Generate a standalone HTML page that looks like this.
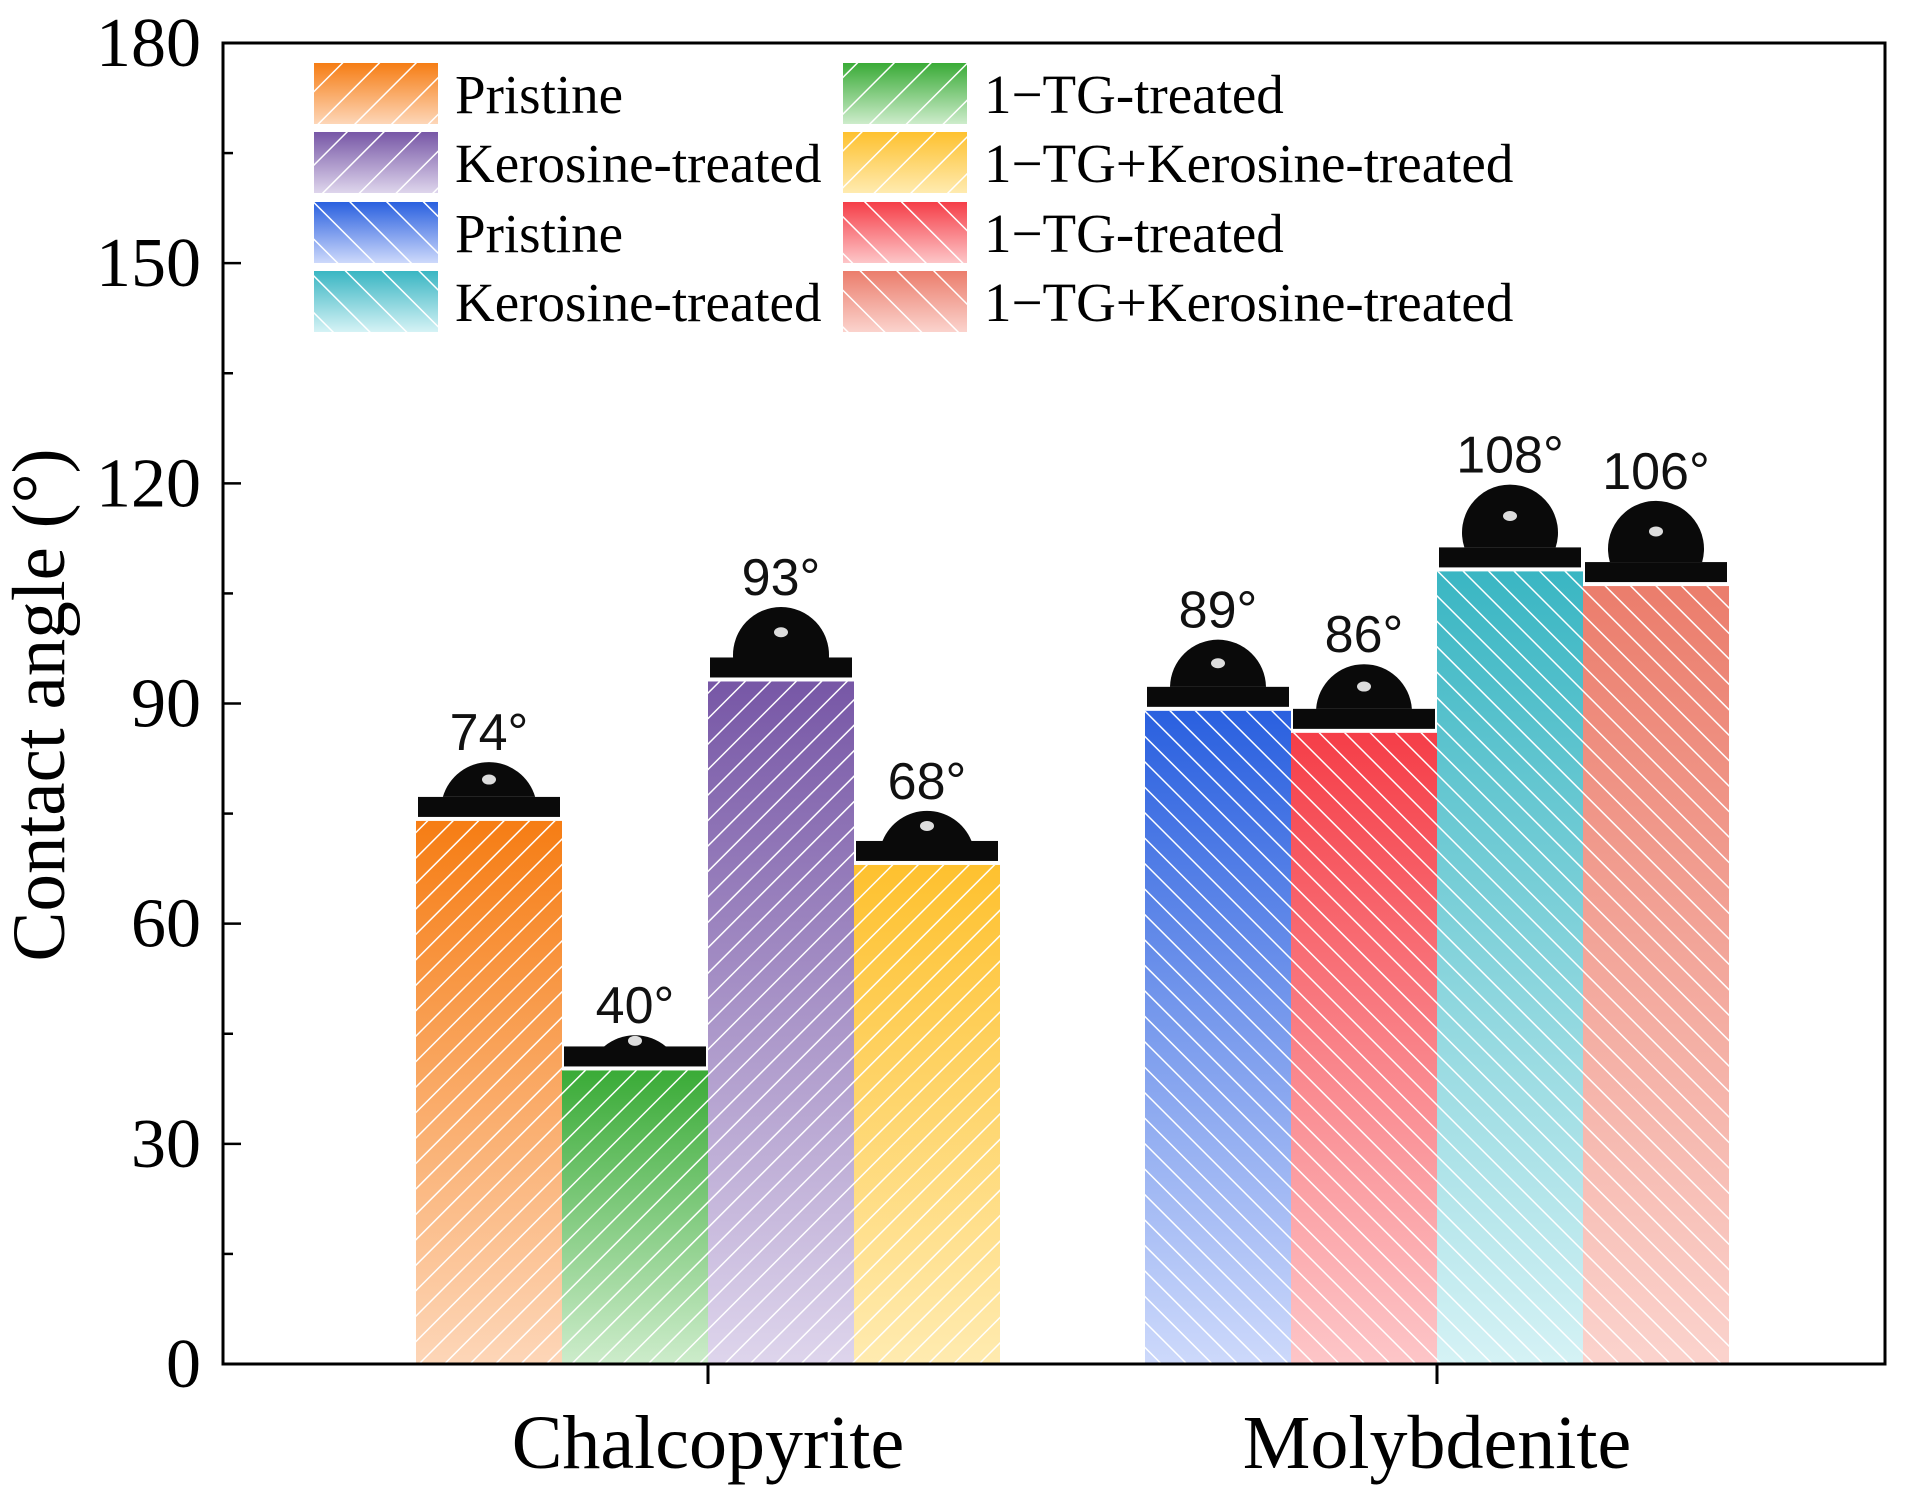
<!DOCTYPE html>
<html><head><meta charset="utf-8"><style>
html,body{margin:0;padding:0;background:#fff;}
svg{display:block;}
</style></head><body>
<svg id="chart" width="1907" height="1498" viewBox="0 0 1907 1498" xmlns="http://www.w3.org/2000/svg">
<defs id="defs"></defs>
<g id="bars"></g>
<g id="drops"></g>
<g id="axes"></g>
<g id="legend"></g>
</svg>
<script>
const categories = ["Chalcopyrite", "Molybdenite"];
const chalcoValues = [74, 40, 93, 68];
const molyValues = [89, 86, 108, 106];
const yTicks = [0, 30, 60, 90, 120, 150, 180];
const chalcoNames = ["Pristine", "1\u2212TG-treated", "Kerosine-treated", "1\u2212TG+Kerosine-treated"];
const molyNames = ["Pristine", "1\u2212TG-treated", "Kerosine-treated", "1\u2212TG+Kerosine-treated"];

const NS = "http://www.w3.org/2000/svg";
const L = 223, R = 1885, T = 43, B = 1364;
const yMax = 180;
const y = v => B - (v / yMax) * (B - T);
const barW = 146;
const catCenter = [708, 1437];
const colors = [
  [["#f67d14","#fdd6b8"],["#3aab37","#cdeccb"],["#7757a6","#ded5ec"],["#fec12f","#ffebb0"]],
  [["#2a60df","#cdd9fb"],["#f53e48","#fdc6c8"],["#3ab6c3","#d5f2f5"],["#eb7d6c","#fbd3cd"]]
];
function el(tag, attrs, parent){ const e=document.createElementNS(NS,tag); for(const k in attrs) e.setAttribute(k,attrs[k]); if(parent) parent.appendChild(e); return e; }
const defs = document.getElementById('defs');
function makeFill(id, c, dir, spacing){
  const g = el('linearGradient',{id:'g'+id,x1:0,y1:0,x2:0,y2:1},defs);
  el('stop',{offset:0,'stop-color':c[0]},g);
  el('stop',{offset:1,'stop-color':c[1]},g);
  const p = el('pattern',{id:'h'+id,patternUnits:'userSpaceOnUse',width:spacing,height:spacing,patternTransform:'rotate('+(dir>0?45:-45)+')'},defs);
  el('line',{x1:0,y1:0,x2:0,y2:spacing,stroke:'#fff','stroke-width':3},p);
}
for(let s=0;s<2;s++) for(let i=0;i<4;i++){ makeFill(s+'_'+i, colors[s][i], s===0?1:-1, 18); makeFill('L'+s+'_'+i, colors[s][i], s===0?1:-1, 26); }

const barsG = document.getElementById('bars');
const dropsG = document.getElementById('drops');
const allVals = [chalcoValues, molyValues];
for(let s=0;s<2;s++){
  const vals = allVals[s];
  vals.forEach((v,i)=>{
    const x0 = catCenter[s] - 2*barW + i*barW;
    const top = y(v);
    const g = el('g',{},barsG);
    
    
    el('rect',{x:x0,y:top,width:barW,height:B-top,fill:'url(#g'+s+'_'+i+')'},g);
    el('rect',{x:x0,y:top,width:barW,height:B-top,fill:'url(#h'+s+'_'+i+')'},g);
    const d = el('g',{},dropsG);
    
    
    const subTop = top - 4 - 20;
    el('rect',{x:x0+2,y:subTop,width:barW-4,height:20,fill:'#0a0a0a'},d);
    const th = v*Math.PI/180;
    const r = Math.min(52/Math.sin(th), 48);
    const cx = x0 + barW/2;
    const cy = subTop + r*Math.cos(th);
    const a = r*Math.sin(th);
    let path;
    if (v<=90) path = `M${cx-a},${subTop} A${r},${r} 0 0 1 ${cx+a},${subTop} Z`;
    else path = `M${cx-a},${subTop} A${r},${r} 0 1 1 ${cx+a},${subTop} Z`;
    el('path',{d:path,fill:'#0a0a0a'},d);
    const dropTop = cy - r;
    el('ellipse',{cx:cx,cy:(dropTop+subTop)/2,rx:7,ry:5,fill:'#ddd'},d);
    const t = el('text',{x:cx,y:dropTop-12,'text-anchor':'middle','font-family':'Liberation Sans, Arial, sans-serif','font-size':52,fill:'#111'},dropsG);
    t.textContent = v+'\u00b0';
    
    
  });
}

const ax = document.getElementById('axes');
el('rect',{x:L,y:T,width:R-L,height:B-T,fill:'none',stroke:'#000','stroke-width':3},ax);
for(let v=0; v<=yMax; v+=15){
  const major = v%30===0;
  el('line',{x1:L,x2:L+(major?18:10),y1:y(v),y2:y(v),stroke:'#000','stroke-width':2.5},ax);
}
yTicks.forEach(v=>{
  const t = el('text',{x:L-22,y:y(v)+23,'text-anchor':'end','font-family':'Liberation Serif, serif','font-size':70,fill:'#000'},ax);
  t.textContent = v;
  
  
});
categories.forEach((c,i)=>{
  el('line',{x1:catCenter[i],x2:catCenter[i],y1:B,y2:B+20,stroke:'#000','stroke-width':3},ax);
  const t = el('text',{x:catCenter[i],y:1468,'text-anchor':'middle','font-family':'Liberation Serif, serif','font-size':76,fill:'#000'},ax);
  t.textContent = c;
  
  
});
const yt = el('text',{transform:'translate(64,705) rotate(-90)','text-anchor':'middle','font-family':'Liberation Serif, serif','font-size':75,fill:'#000'},ax);
yt.textContent = 'Contact angle (\u00b0)';



const lg = document.getElementById('legend');
const rowsY = [63, 132, 202, 271];
const entries = [
  [0,0,chalcoNames[0]],[0,1,chalcoNames[1]],
  [0,2,chalcoNames[2]],[0,3,chalcoNames[3]],
  [1,0,molyNames[0]],[1,1,molyNames[1]],
  [1,2,molyNames[2]],[1,3,molyNames[3]]
];
entries.forEach((e,k)=>{
  const row = Math.floor(k/2), col = k%2;
  const sx = col===0 ? 314 : 843;
  const g = el('g',{},lg);
  
  
  el('rect',{x:sx,y:rowsY[row],width:124,height:61,fill:'url(#gL'+e[0]+'_'+e[1]+')'},g);
  el('rect',{x:sx,y:rowsY[row],width:124,height:61,fill:'url(#hL'+e[0]+'_'+e[1]+')'},g);
  const t = el('text',{x:sx+141,y:rowsY[row]+50,'font-family':'Liberation Serif, serif','font-size':55,fill:'#000'},g);
  t.textContent = e[2];
});
</script>
</body></html>
